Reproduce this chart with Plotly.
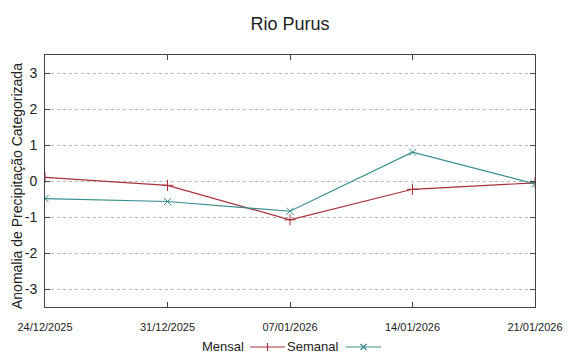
import plotly.graph_objects as go

dates = ["2025-12-24", "2025-12-31", "2026-01-07", "2026-01-14", "2026-01-21"]
date_labels = ["24/12/2025", "31/12/2025", "07/01/2026", "14/01/2026", "21/01/2026"]
mensal = [0.1, -0.12, -1.08, -0.23, -0.05]
semanal = [-0.49, -0.57, -0.84, 0.8, -0.08]
y_ticks = [-3, -2, -1, 0, 1, 2, 3]
y_labels = ["-3", "-2", "-1", "0", "1", "2", "3"]

RED = "#a8303c"
TEAL = "#3a8c8c"
FONT = "Liberation Sans, Arial, sans-serif"

# the page body adds an 8px margin, so the figure starts at (8, 8)
W, H = 574, 346
L, R, T, B = 37, 47, 47, 47
PW = W - L - R
PH = H - T - B


def px(x):
    return (x - L) / PW


def py(y):
    return (H - B - y) / PH


fig = go.Figure()

fig.add_trace(go.Scatter(
    x=dates, y=mensal, mode="lines+markers", name="Mensal",
    line=dict(color=RED, width=1.2),
    marker=dict(symbol="cross-thin", size=8, line=dict(color=RED, width=1)),
))
fig.add_trace(go.Scatter(
    x=dates, y=semanal, mode="lines+markers", name="Semanal",
    line=dict(color=TEAL, width=1.2),
    marker=dict(symbol="x-thin", size=7, line=dict(color=TEAL, width=1)),
))

# gnuplot-style legend: text first, then line sample with its marker
ly = 339
legend_items = [("Mensal", RED, "plus", 238, 242), ("Semanal", TEAL, "x", 332, 338)]
for name, color, sym, text_right, x0 in legend_items:
    fig.add_annotation(
        x=px(text_right), y=py(ly), xref="paper", yref="paper",
        xanchor="right", yanchor="middle", text=name, showarrow=False,
        font=dict(family=FONT, size=13, color="#222"),
    )
    line = dict(color=color, width=1.2)
    fig.add_shape(type="line", xref="paper", yref="paper",
                  x0=px(x0), x1=px(x0 + 35), y0=py(ly), y1=py(ly), line=line)
    cx = x0 + 17.5
    if sym == "plus":
        fig.add_shape(type="line", xref="paper", yref="paper",
                      x0=px(cx), x1=px(cx), y0=py(ly - 4), y1=py(ly + 4), line=line)
    else:
        for d in (-3, 3):
            fig.add_shape(type="line", xref="paper", yref="paper",
                          x0=px(cx - 3), x1=px(cx + 3), y0=py(ly - d), y1=py(ly + d), line=line)

# y axis title placed like gnuplot (slightly below the plot centre)
fig.add_annotation(
    x=px(9), y=py(178), xref="paper", yref="paper", textangle=-90,
    xanchor="center", yanchor="middle", showarrow=False,
    text="Anomalia de Precipitação Categorizada",
    font=dict(family=FONT, size=14, color="#222"),
)

fig.update_layout(
    title=dict(text="Rio Purus", x=(290 - 8) / W, xanchor="center", y=1 - 16 / H, yanchor="middle",
               font=dict(family=FONT, size=18, color="#222")),
    width=W, height=H,
    margin=dict(l=L, r=R, t=T, b=B),
    plot_bgcolor="white", paper_bgcolor="white",
    showlegend=False,
    xaxis=dict(
        type="date", range=[dates[0], dates[-1]],
        tickvals=dates, ticktext=date_labels,
        ticks="inside", ticklen=5, tickcolor="#444",
        showline=True, mirror="allticks", linecolor="#444", linewidth=1,
        showgrid=False, zeroline=False, automargin=False,
        ticklabelstandoff=10,
        tickfont=dict(family=FONT, size=11, color="#222"),
    ),
    yaxis=dict(
        range=[-3.5, 3.5], tickvals=y_ticks, ticktext=y_labels,
        ticks="inside", ticklen=5, tickcolor="#444",
        showline=True, mirror="allticks", linecolor="#444", linewidth=1,
        showgrid=True, gridcolor="#bbbbbb", griddash="dot", gridwidth=1,
        zeroline=False, automargin=False,
        ticklabelstandoff=4,
        tickfont=dict(family=FONT, size=14, color="#222"),
    ),
)

fig.write_html("out.html")
